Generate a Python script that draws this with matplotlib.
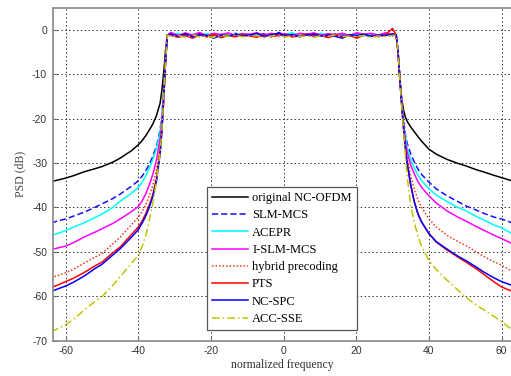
import numpy as np
import matplotlib
matplotlib.use("Agg")
import matplotlib.pyplot as plt

plt.rcParams["axes.unicode_minus"] = False

# out-of-band frequency grids (left / right skirts)
left_f = [-64, -62, -60, -58, -55, -52, -50, -47, -45, -42, -40, -39, -38, -37, -36, -35, -34,
          -33.5, -33, -32.5, -32]
right_f = [31, 31.5, 32, 32.5, 33, 33.5, 34, 35, 36, 37, 38, 40, 42, 45, 48, 50, 53, 55, 58, 60, 62, 64]

# left skirts (dB)
black_l = [-34.2, -33.8, -33.4, -32.9, -32.0, -31.3, -30.8, -29.8, -28.9, -27.3, -25.9, -25.0, -23.9,
           -22.6, -21.2, -19.3, -16.5, -13.5, -9.5, -4.5, -1.2]
slm_l = [-43.5, -43.0, -42.6, -42.0, -41.1, -40.0, -39.2, -38.0, -37.0, -35.3, -34.0, -33.0, -31.8,
         -30.3, -28.5, -26.2, -22.5, -19.0, -13.5, -6.5, -1.2]
acepr_l = [-46.3, -45.8, -45.2, -44.5, -43.5, -42.3, -41.5, -40.0, -38.6, -36.9, -35.5, -34.4, -33.0,
           -31.2, -29.2, -26.8, -23.0, -19.3, -13.5, -6.5, -1.2]
islm_l = [-49.5, -49.1, -48.7, -48.0, -46.7, -45.6, -44.8, -43.6, -42.6, -41.0, -39.8, -38.6, -37.0,
          -35.0, -32.5, -29.3, -24.5, -20.3, -14.0, -7.0, -1.2]
hyb_l = [-55.8, -55.3, -54.7, -54.0, -52.6, -51.2, -50.4, -48.2, -46.7, -44.0, -42.2, -41.0, -39.5,
         -37.5, -35.0, -31.5, -26.3, -21.5, -15.0, -7.0, -1.2]
pts_l = [-58.1, -57.4, -56.7, -56.0, -54.7, -53.2, -52.3, -50.2, -48.9, -46.2, -44.4, -43.1, -41.5,
         -39.5, -37.0, -33.5, -27.3, -22.3, -15.5, -7.0, -1.2]
spc_l = [-58.9, -58.3, -57.7, -56.9, -55.5, -53.8, -52.8, -50.7, -49.3, -46.8, -45.0, -43.6, -42.0,
         -40.0, -37.5, -34.0, -27.8, -22.8, -15.5, -7.0, -1.2]
acc_l = [-68.0, -67.2, -66.4, -65.3, -63.2, -61.2, -60.1, -57.5, -55.6, -52.7, -50.8, -48.8, -46.5,
         -43.0, -39.0, -34.0, -27.5, -22.3, -15.0, -7.0, -1.2]

# right skirts (dB)
black_r = [-1.2, -5.0, -11.0, -15.5, -18.0, -19.6, -20.6, -21.9, -23.0, -24.1, -25.1, -26.9, -28.0,
           -29.2, -30.1, -30.6, -31.5, -32.0, -32.8, -33.3, -33.8, -34.3]
slm_r = [-1.2, -5.0, -11.0, -16.0, -20.0, -23.5, -25.5, -28.0, -29.8, -31.4, -32.6, -34.3, -35.8,
         -37.4, -38.7, -39.6, -40.6, -41.3, -42.2, -42.6, -43.2, -43.9]
acepr_r = [-1.2, -5.0, -11.0, -16.0, -20.5, -24.0, -26.5, -29.3, -31.2, -32.8, -34.0, -35.8, -37.2,
           -38.7, -40.0, -40.7, -42.0, -42.8, -44.0, -44.6, -45.5, -46.4]
islm_r = [-1.2, -5.0, -11.0, -16.0, -21.0, -25.0, -27.5, -30.5, -32.5, -34.2, -35.5, -37.4, -39.0,
          -40.8, -42.2, -43.0, -44.3, -45.1, -46.3, -47.0, -47.8, -48.7]
hyb_r = [-1.2, -5.0, -11.0, -16.5, -21.5, -26.0, -28.8, -33.0, -36.0, -38.3, -40.0, -42.6, -44.4,
         -46.3, -47.7, -48.5, -50.0, -51.0, -52.3, -53.0, -54.0, -55.0]
pts_r = [-1.2, -5.0, -11.0, -17.0, -22.0, -26.5, -30.0, -35.0, -38.8, -41.5, -43.3, -45.9, -47.8,
         -49.6, -51.2, -52.2, -53.8, -55.0, -56.8, -57.9, -58.6, -59.2]
spc_r = [-1.2, -5.0, -11.0, -17.0, -22.0, -26.5, -30.0, -35.0, -38.8, -41.5, -43.3, -45.9, -47.7,
         -49.4, -51.0, -51.9, -53.4, -54.5, -55.9, -56.7, -57.3, -57.9]
acc_r = [-1.2, -5.0, -11.0, -17.0, -22.5, -28.0, -33.0, -39.5, -43.5, -46.5, -48.8, -51.9, -54.0,
         -56.4, -58.6, -60.1, -62.0, -63.0, -64.6, -65.7, -67.0, -68.2]

# in-band ripple (dB), spread evenly from -31 to 30
black_pb = [-0.9, -1.3, -1.0, -1.4, -0.9, -1.2, -1.1, -1.4, -0.9, -1.3, -1.0, -1.2, -0.9, -1.3, -1.1, -0.8,
            -1.2, -1.0, -1.3, -1.1, -0.9, -1.3, -1.0, -1.2, -0.9, -1.4, -1.0, -1.2, -1.0, -1.3, -0.9, -1.1]
slm_pb = [-0.7, -1.4, -1.0, -1.6, -0.9, -1.3, -1.8, -1.0, -1.4, -0.8, -1.5, -1.1, -1.3, -0.9, -1.6, -0.6,
          -1.2, -1.0, -1.5, -0.9, -1.3, -1.1, -1.7, -0.9, -1.2, -1.4, -0.8, -1.3, -1.0, -1.5, -1.1, -0.9]
acepr_pb = [-1.1, -0.8, -1.4, -1.0, -1.3, -0.9, -1.2, -1.5, -1.0, -1.2, -0.8, -1.3, -1.1, -1.4, -0.9, -1.2,
            -1.0, -0.7, -1.3, -1.0, -1.2, -0.8, -1.3, -1.1, -0.9, -1.2, -1.0, -1.4, -0.9, -1.2, -1.0, -1.3]
islm_pb = [-0.6, -1.3, -0.7, -1.2, -0.6, -1.4, -0.8, -1.1, -0.7, -1.3, -0.9, -1.0, -0.7, -1.2, -0.8, -1.1,
           -0.9, -1.3, -0.8, -1.0, -0.7, -1.2, -0.9, -1.1, -0.8, -1.3, -0.7, -1.0, -0.8, -1.2, -0.7, -1.0]
hyb_pb = [-1.3, -1.6, -1.1, -1.5, -1.2, -1.7, -1.3, -1.5, -1.1, -1.6, -1.3, -1.4, -1.2, -1.7, -1.3, -1.5,
          -1.2, -1.6, -1.4, -1.2, -1.5, -1.3, -1.7, -1.2, -1.5, -1.3, -1.6, -1.2, -1.4, -1.6, -1.3, -1.4]
pts_pb = [-1.2, -1.7, -1.3, -1.9, -1.2, -1.5, -1.1, -1.8, -1.3, -1.6, -1.0, -1.4, -1.7, -1.2, -1.5, -1.3,
          -1.1, -1.6, -1.4, -1.0, -1.5, -1.3, -1.8, -1.2, -1.6, -1.3, -1.9, -1.2, -1.5, -1.4, -1.1, 0.3]
spc_pb = [-1.0, -1.5, -0.9, -1.6, -1.1, -1.3, -1.9, -1.2, -1.5, -1.0, -1.4, -1.2, -0.8, -1.5, -1.1, -0.9,
          -1.3, -1.1, -1.6, -1.2, -1.0, -1.4, -1.2, -1.5, -1.9, -1.1, -1.3, -1.0, -1.5, -1.2, -1.3, -1.0]
acc_pb = [-1.5, -1.3, -1.7, -1.2, -1.6, -1.4, -1.8, -1.3, -1.5, -1.2, -1.6, -1.4, -1.3, -1.7, -1.4, -1.2,
          -1.6, -1.3, -1.5, -1.4, -1.7, -1.3, -1.5, -1.2, -1.6, -1.4, -1.5, -1.3, -1.7, -1.4, -1.5, -1.3]

labels = ["original NC-OFDM", "SLM-MCS", "ACEPR", "I-SLM-MCS",
          "hybrid precoding", "PTS", "NC-SPC", "ACC-SSE"]
curves = [(black_l, black_pb, black_r), (slm_l, slm_pb, slm_r), (acepr_l, acepr_pb, acepr_r),
          (islm_l, islm_pb, islm_r), (hyb_l, hyb_pb, hyb_r), (pts_l, pts_pb, pts_r),
          (spc_l, spc_pb, spc_r), (acc_l, acc_pb, acc_r)]
styles = [dict(color="black", ls="-"),
          dict(color="#1010ff", ls=(0, (4, 2))),
          dict(color="#00ffff", ls="-"),
          dict(color="#ff00ff", ls="-"),
          dict(color="#ee3a1a", ls=(0, (1, 1.3))),
          dict(color="#ff0000", ls="-"),
          dict(color="#0000ff", ls="-"),
          dict(color="#c2c200", ls=(0, (5, 2, 1, 2)))]

fig = plt.figure(figsize=(5.11, 3.76), dpi=100)
ax = fig.add_axes([0.103, 0.094, 0.897, 0.886])

for lab, (l, pb, r), st in zip(labels, curves, styles):
    x_pb = np.linspace(-31, 30, len(pb))
    x = np.concatenate([left_f, x_pb, right_f])
    y = np.concatenate([l, pb, r])
    ax.plot(x, y, lw=1.1, label=lab, **st)

ax.set_xlim(-63.6, 62.6)
ax.set_ylim(-70, 5)
ax.set_xticks(np.arange(-60, 61, 20))
ax.set_yticks(np.arange(-70, 1, 10))
ax.grid(True, color="#333333", ls=(0, (1.5, 2.5)), lw=0.7)
ax.tick_params(direction="in", length=3, width=0.8, color="#666666",
               labelsize=7.5, labelcolor="#333333", pad=4)
for lbl in ax.get_xticklabels() + ax.get_yticklabels():
    lbl.set_family("Liberation Sans")
for side in ["left", "bottom", "top"]:
    ax.spines[side].set_color("#888888")
    ax.spines[side].set_linewidth(1.2)
ax.spines["right"].set_visible(False)

ax.set_xlabel("normalized frequency", family="Liberation Serif", fontsize=8.5,
              color="#333333", labelpad=2)
ax.set_ylabel("PSD (dB)", family="Liberation Serif", fontsize=8.5,
              color="#444444", labelpad=4)

leg = ax.legend(loc="lower left", bbox_to_anchor=(0.337, 0.032), borderaxespad=0,
                prop={"family": "Liberation Serif", "size": 9}, handlelength=2.9,
                handletextpad=0.3, labelspacing=0.42, borderpad=0.4,
                fancybox=False, framealpha=1)
leg.get_frame().set_edgecolor("#555555")
leg.get_frame().set_linewidth(0.9)

fig.savefig("out.png", dpi=100)
